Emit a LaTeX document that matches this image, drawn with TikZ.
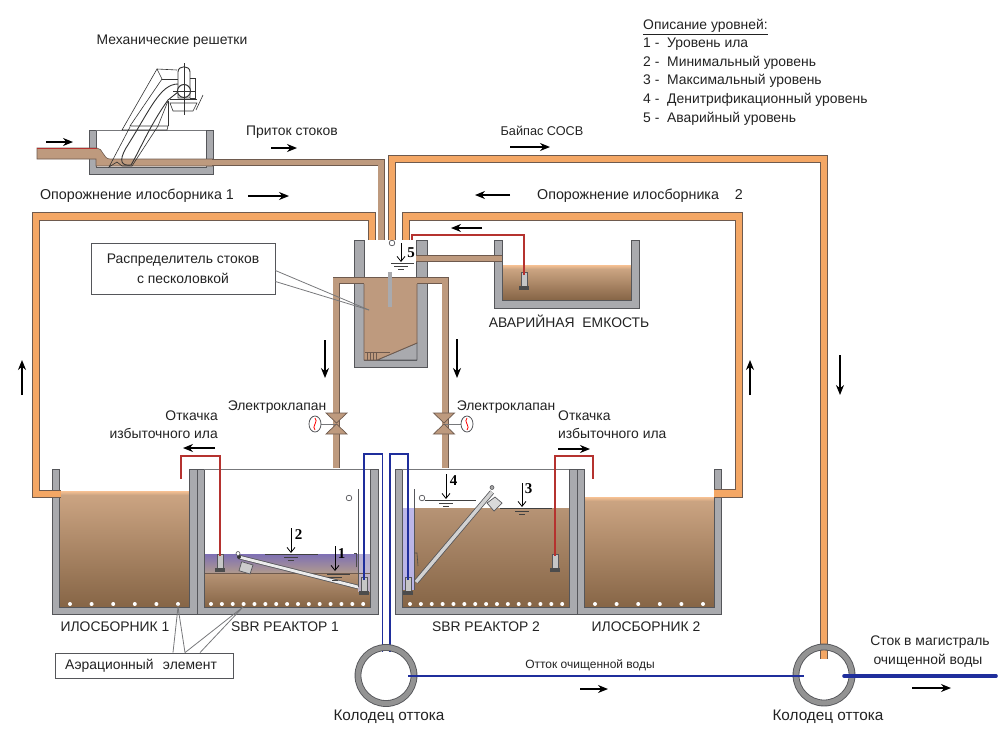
\documentclass[tikz,border=0pt]{standalone}
\usepackage{fontspec}
\setmainfont{Liberation Sans}
\newfontfamily\levelfont{Liberation Serif}
\usetikzlibrary{arrows.meta}
\definecolor{wallgray}{HTML}{A9AAAE}
\definecolor{walledge}{HTML}{55565A}
\definecolor{waste}{HTML}{BE9A7E}
\definecolor{wasteedge}{HTML}{6E5A4E}
\definecolor{sludgetop}{HTML}{CBA482}
\definecolor{sludgelow}{HTML}{866546}
\definecolor{orangepipe}{HTML}{F4A765}
\definecolor{pumpred}{HTML}{B5322F}
\definecolor{cleanblue}{HTML}{1F2E9C}
\definecolor{labelink}{HTML}{222222}
\definecolor{waterviolet}{HTML}{7E70B4}
\definecolor{waterlow}{HTML}{B09A8E}
\begin{document}
\begin{tikzpicture}[x=1pt,y=-1pt,
	lbl node/.style={font=\fontsize{13.9}{15}\selectfont,text=labelink,inner sep=0pt,text height=12.5pt,text depth=3pt},
	box node/.style={lbl node,draw=walledge,line width=0.8pt,fill=white,text height=,text depth=},
	flow arrow/.style={-{Stealth[length=10pt,width=8pt]},line width=1.3pt,black},
	level arrow/.style={-{Straight Barb[length=5pt,width=8pt]},line width=0.8pt,black},
	wall/.style={fill=wallgray,draw=walledge,line width=0.8pt},
	thin line/.style={draw=walledge!80,line width=0.8pt},
	brown pipe/.style={draw=wasteedge,double=waste,double distance=5.4pt,line width=0.8pt},
	orange pipe/.style={draw=wasteedge,double=orangepipe,double distance=6.4pt,line width=1pt},
	red pipe/.style={draw=pumpred,line width=1.5pt},
	blue pipe/.style={draw=cleanblue,line width=1.5pt},
	well/.style={draw=walledge,double=gray!85,double distance=5pt,line width=0.9pt},
	machine/.style={draw=black!80,line width=0.6pt}]

	\useasboundingbox (0,0) rectangle (1000,750);

	% liquid in the four lower tanks and the spare tank
	\shade[top color=sludgetop,bottom color=sludgelow] (59,495) rectangle (189,607);
	\shade[top color=orangepipe!70,bottom color=sludgetop] (59,491) rectangle (189,495);
	\shade[top color=sludgetop,bottom color=sludgelow] (584,501) rectangle (714,607);
	\shade[top color=orangepipe!70,bottom color=sludgetop] (584,497) rectangle (714,501);
	\shade[top color=sludgetop,bottom color=sludgelow] (502,269) rectangle (631,300);
	\shade[top color=orangepipe!70,bottom color=sludgetop] (502,265) rectangle (631,269);
	\shade[top color=sludgetop!90!black,bottom color=sludgelow] (402,508) rectangle (569,607);
	\shade[top color=sludgetop!90!black,bottom color=sludgelow] (204,573) rectangle (370,607);
	\shade[top color=waterviolet,bottom color=waterlow] (204,554) rectangle (370,573);
	\fill[waterviolet!45,opacity=0.8] (358,554) rectangle (370,592);
	\fill[blue!25,opacity=0.85] (402,508) rectangle (414,590);
	\draw[wasteedge,line width=0.7pt] (204,573) -- (370,573);

	% tank walls
	\foreach \xa/\xb/\xc/\xd/\ya/\yb/\yc in {52/59/189/197/469/607/614,197/204/370/378/469/607/614,395/402/569/577/469/607/614,577/584/714/721/469/607/614,494/502/631/639/240/300/308,89/96/206/213/130/167/174,354/364/416/427/240/360/367}
		\draw[wall] (\xa,\ya) -- (\xa,\yc) -- (\xd,\yc) -- (\xd,\ya) -- (\xc,\ya) -- (\xc,\yb) -- (\xb,\yb) -- (\xb,\ya) -- cycle;
	\draw[thin line] (204,469) -- (370,469);
	\draw[thin line] (402,469) -- (569,469);
	\draw[thin line] (96,130) -- (206,130);

	% aeration elements
	\foreach \i in {0,...,14} {
		\fill[white] (211+\i*10.87,604) circle (2);
		\fill[white] (410+\i*10.87,604) circle (2);
	}
	\foreach \i in {0,...,5} {
		\fill[white] (70+\i*21.6,604) circle (2);
		\fill[white] (595+\i*21.6,604) circle (2);
	}

	% screen channel
	\draw[wasteedge,fill=waste,line width=0.6pt] (37,148) -- (97,148) .. controls (103,148) and (103,159) .. (110,159) -- (213,159) -- (213,166) -- (96,166) -- (96,159) -- (37,159) -- cycle;
	\draw[pumpred,line width=0.9pt] (37,148) -- (97,148);
	\draw[brown pipe] (212,162.5) -- (381,162.5) -- (381,240);

	% screen machine
	\draw[machine] (157,69) -- (122,130) -- (167,130) -- (168,126) -- (130,126) -- (162,79) -- (157,69) -- (177,70);
	\draw[machine] (162,79) -- (178,79);
	\draw[machine] (168,101) -- (168,126);
	\draw[machine] (168,101) -- (158,126);
	\draw[machine] (130,127) -- (109,167) -- (117,162) -- (122,166) -- (132,166) -- (158,126);
	\draw[machine,line width=0.9pt] (178,84) .. controls (160,84) and (150,110) .. (126,148) .. controls (118,162) and (122,166) .. (131,165) .. controls (140,150) and (150,125) .. (168,100) -- (178,92);
	\draw[machine,line width=0.9pt] (178,72) .. controls (178,65) and (190,65) .. (190,72) -- (190,98) -- (178,98) -- cycle;
	\draw[machine,fill=white,line width=1pt] (184,91) circle (6.5);
	\draw[machine] (190,78) -- (195,78) -- (195,98) -- (190,98);
	\draw[machine] (173,91) -- (195,91);
	\draw[machine] (184,63) -- (184,115);
	\draw[machine] (170,99) -- (197,99);
	\draw[machine] (170,103) -- (197,103) -- (193,111) -- (173,111) -- cycle;
	\draw[machine] (196,110) -- (203,95);

	% sand trap and its outlets
	\draw[wall] (417,343) -- (417,360) -- (377,360) -- cycle;
	\draw[brown pipe] (336,468) -- (336,280.5) -- (445,280.5) -- (445,468);
	\fill[waste] (364,278) -- (417,278) -- (417,343) -- (377,360) -- (364,360) -- cycle;
	\draw[wasteedge,line width=0.8pt] (364,284) -- (364,360) -- (377,360) -- (417,343) -- (417,284);
	\foreach \x in {367,370,373,376}
		\draw[wasteedge,line width=0.6pt] (\x,352) -- (\x,360);
	\draw[wasteedge,line width=0.6pt] (365,352) -- (390,352);
	\fill[wallgray] (388,272) rectangle (392,307);
	\draw[brown pipe] (416,258.5) -- (502,258.5);

	% solenoid valves
	\foreach \x/\xm/\sgn in {336.5/315/1,444/467/-1} {
		\draw[thin line] (\x,424) -- (\xm,424);
		\draw[wasteedge,fill=waste,line width=0.7pt] (\x-10.5,413) -- (\x+10.5,413) -- (\x,423) -- cycle;
		\draw[wasteedge,fill=waste,line width=0.7pt] (\x-10.5,434) -- (\x+10.5,434) -- (\x,424) -- cycle;
		\draw[walledge,fill=white,line width=0.8pt] (\xm,424) ellipse [x radius=6,y radius=8];
		\draw[red,line width=0.8pt] (\xm,418) .. controls (\xm+4*\sgn,421) and (\xm-4*\sgn,427) .. (\xm,430);
	}

	% pumps
	\foreach \x/\y in {220/554,364/577,408/577,555/554,524/272} {
		\draw[walledge,fill=gray!45,line width=0.6pt] (\x-3,\y) rectangle (\x+3,\y+14);
		\fill[black!70] (\x-5,\y+14) rectangle (\x+5,\y+18);
	}

	% pump delivery lines
	\draw[red pipe] (220,556) -- (220,456) -- (181,456) -- (181,479);
	\draw[red pipe] (555,556) -- (555,456) -- (593,456) -- (593,479);
	\draw[red pipe] (524,275) -- (524,235) -- (412,235) -- (412,240);
	\draw[blue pipe] (364,580) -- (364,454) -- (382.5,454) -- (382.5,652);
	\draw[blue pipe] (408,580) -- (408,454) -- (390,454) -- (390,652);

	% sludge return and bypass
	\draw[orange pipe] (61,494) -- (36,494) -- (36,216.5) -- (372,216.5) -- (372,240);
	\draw[orange pipe] (714,493.5) -- (739,493.5) -- (739,216.5) -- (406,216.5) -- (406,240);
	\draw[orange pipe] (392,240) -- (392,159) -- (824,159) -- (824,659);
	\draw[walledge,fill=white,line width=0.7pt] (392,243) circle (2.8);

	% decanters
	\draw[walledge,double=gray!15,double distance=2.8pt,line width=0.8pt] (239,557) -- (358,587);
	\draw[walledge,fill=gray!40,line width=0.7pt] (241.7,561.7) -- (253,565) -- (250,574) -- (239,570.7) -- cycle;
	\fill[black!80] (239,557) circle (2);
	\draw[walledge,fill=white,line width=0.6pt] (238,553.5) circle (2);
	\draw[walledge,double=gray!35,double distance=3.4pt,line width=0.8pt] (416,582) -- (492,492);
	\draw[walledge,fill=gray!30,line width=0.7pt] (495,497) -- (502,503) -- (494,511) -- (487,503) -- cycle;
	\draw[walledge,fill=gray!70,line width=0.6pt] (492,487.5) circle (2);
	\draw[walledge,line width=0.8pt] (358,489) -- (358,587);
	\draw[walledge,line width=0.8pt] (414,489) -- (414,590);
	\draw[walledge,fill=white,line width=0.7pt] (349,498) circle (2.8);
	\draw[walledge,fill=white,line width=0.7pt] (422,498) circle (2.8);
	\draw[black!70,line width=0.6pt] (356,567) -- (356,553) -- (354,553);
	\draw[black!70,line width=0.6pt] (414,553) -- (417,553) -- (418,566);

	% level marks
	\foreach \n/\x/\ya/\yb/\xa/\xb/\yl/\xt/\yt in {5/401/243/262/391/414/263/411/253,4/446/474/499/425/476/500/453.5/481,3/522/483/507/500/552/508/528.5/489,2/291/528/553/265/318/554/298.5/535,1/335/546/571/327/350/574/341.5/554} {
		\draw[level arrow] (\x,\ya) -- (\x,\yb);
		\draw[black!75,line width=0.8pt] (\xa,\yl) -- (\xb,\yl);
		\draw[black!75,line width=0.7pt] (\x-7,\yl+3) -- (\x+7,\yl+3);
		\draw[black!75,line width=0.7pt] (\x-3,\yl+6) -- (\x+3,\yl+6);
		\node[font=\levelfont\bfseries\fontsize{15}{15}\selectfont,inner sep=0pt] (level \n) at (\xt,\yt) {\n};
	}

	% outflow wells
	\draw[well] (386,675.5) circle (28);
	\draw[well] (824,675) circle (28);
	\draw[blue pipe] (408,676) -- (804,676);
	\draw[cleanblue,line width=3.6pt,line cap=round] (844,676) -- (996,676);

	% flow direction
	\foreach \xa/\ya/\xb/\yb in {46/142/73/142,271/148/297/148,248/196/289/196,510/147/550/147,510/195/475/195,482/228/451/228,325/340/325/378,457/339/457/378,22/395/22/360,750/395/750/360,840/355/840/395,215/448/183/448,558/449/590/449,580/689/608/689,912/688/951/688}
		\draw[flow arrow] (\xa,\ya) -- (\xb,\yb);

	% callouts
	\node[box node,minimum width=184pt,minimum height=51pt,align=center,font=\fontsize{13.9}{20}\selectfont] (sand box) at (183,268.5) {Распределитель стоков\\с песколовкой};
	\coordinate (sand tip) at (369,310);
	\draw[thin line] ([yshift=-2pt]sand box.east) -- (sand tip);
	\draw[thin line] ([yshift=-13pt]sand box.east) -- (sand tip);
	\node[box node,inner xsep=10pt,text width=158pt,minimum height=25pt,align=left] (air box) at (144,665.5) {Аэрационный\ \ элемент};
	\coordinate (air tip a) at (178,607);
	\coordinate (air tip b) at (243,607);
	\draw[thin line] ([xshift=29pt]air box.north) -- (air tip a) -- ([xshift=41pt]air box.north) -- (air tip b) -- ([xshift=56pt]air box.north);

	% labels
	\node[lbl node] (grid label) at (172,40) {Механические решетки};
	\node[lbl node] (inflow label) at (292,131) {Приток стоков};
	\node[lbl node,font=\fontsize{12.7}{15}\selectfont] (bypass label) at (542,131) {Байпас СОСВ};
	\node[lbl node,font=\fontsize{14.3}{15}\selectfont] (drain one) at (137,195) {Опорожнение илосборника 1};
	\node[lbl node,font=\fontsize{14.3}{15}\selectfont] (drain two) at (640,195) {Опорожнение илосборника\ \ \ \ 2};
	\node[lbl node] (spare label) at (569,323) {АВАРИЙНАЯ\ \ ЕМКОСТЬ};
	\node[lbl node] (valve left) at (277,406) {Электроклапан};
	\node[lbl node] (valve right) at (506,406) {Электроклапан};
	\node[lbl node,anchor=east] (pump left a) at (218,416) {Откачка};
	\node[lbl node,anchor=east] (pump left b) at (218,434) {избыточного ила};
	\node[lbl node,anchor=west] (pump right a) at (558,416) {Откачка};
	\node[lbl node,anchor=west] (pump right b) at (558,434) {избыточного ила};
	\node[lbl node] (tank one) at (115,627) {ИЛОСБОРНИК 1};
	\node[lbl node] (reactor one) at (285,627) {SBR РЕАКТОР 1};
	\node[lbl node] (reactor two) at (486,627) {SBR РЕАКТОР 2};
	\node[lbl node] (tank two) at (646,627) {ИЛОСБОРНИК 2};
	\node[lbl node,font=\fontsize{15.3}{15}\selectfont] (well left) at (389,716) {Колодец оттока};
	\node[lbl node,font=\fontsize{15.3}{15}\selectfont] (well right) at (828,716) {Колодец оттока};
	\node[lbl node,font=\fontsize{12}{15}\selectfont] (outflow label) at (590,664) {Отток очищенной воды};
	\node[lbl node] (main one) at (930,641) {Сток в магистраль};
	\node[lbl node] (main two) at (928,660) {очищенной воды};

	% level legend
	\node[lbl node,anchor=west] (legend title) at (643,25) {\underline{Описание уровней:}};
	\foreach \n/\y/\txt in {1/43/Уровень ила,2/62/Минимальный уровень,3/80/Максимальный уровень,4/99/Денитрификационный уровень,5/118/Аварийный уровень} {
		\node[lbl node,anchor=west] (legend num \n) at (643,\y) {\n\ -};
		\node[lbl node,anchor=west] (legend text \n) at (667,\y) {\txt};
	}
\end{tikzpicture}
\end{document}
